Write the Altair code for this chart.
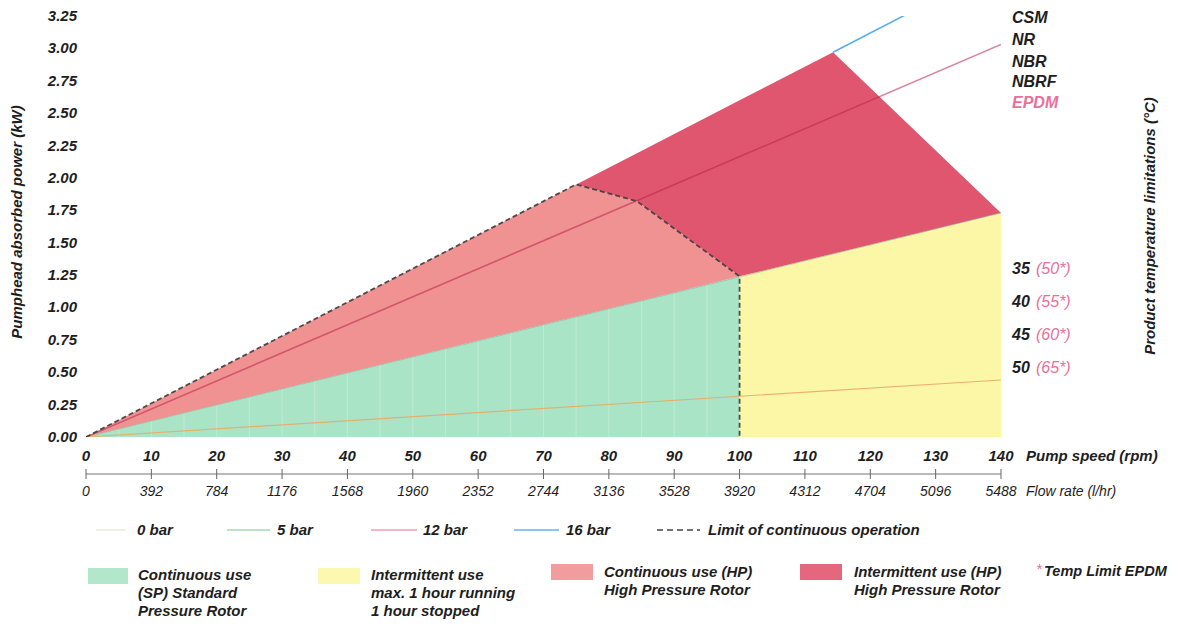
import altair as alt
import pandas as pd

# ---------------- data ----------------
rpm_ticks = [0, 10, 20, 30, 40, 50, 60, 70, 80, 90, 100, 110, 120, 130, 140]
flow_ticks = [0, 392, 784, 1176, 1568, 1960, 2352, 2744, 3136, 3528, 3920, 4312, 4704, 5096, 5488]
kw_ticks = [0.0, 0.25, 0.5, 0.75, 1.0, 1.25, 1.5, 1.75, 2.0, 2.25, 2.5, 2.75, 3.0, 3.25]

# pressure lines: pump speed (rpm) -> absorbed power (kW)
bar0_rpm, bar0_kw = [0, 140], [0, 0.44]
bar5_rpm, bar5_kw = [0, 140], [0, 1.73]
bar12_rpm, bar12_kw = [0, 140], [0, 3.03]
bar16_rpm, bar16_kw = [114.3, 140], [2.97, 3.64]   # visible part above the zones

# operating zones (top / bottom edge at each rpm)
sp_cont_rpm, sp_cont_top, sp_cont_bot = [0, 100], [0, 1.24], [0, 0]
sp_int_rpm, sp_int_top, sp_int_bot = [100, 140], [1.24, 1.73], [0, 0]
hp_cont_rpm = [0, 75, 84.3, 100]
hp_cont_top = [0, 1.95, 1.82, 1.24]
hp_cont_bot = [0, 0.93, 1.045, 1.24]
hp_int_rpm = [75, 84.3, 100, 114.3, 140]
hp_int_top = [1.95, 2.19, 2.60, 2.97, 1.73]
hp_int_bot = [1.95, 1.82, 1.24, 1.415, 1.73]

limit_rpm = [0, 75, 84.3, 100, 100]
limit_kw = [0, 1.95, 1.82, 1.24, 0]

grid_rpm = [5, 10, 15, 20, 25, 30, 35, 40, 45, 50, 55, 60, 65, 70, 75, 80, 85, 90, 95]

materials = ["CSM", "NR", "NBR", "NBRF", "EPDM"]
temps_std = ["35", "40", "45", "50"]
temps_epdm = ["(50*)", "(55*)", "(60*)", "(65*)"]

line_legend = ["0 bar", "5 bar", "12 bar", "16 bar", "Limit of continuous operation"]
zone_legend = [
    ["Continuous use", "(SP) Standard", "Pressure Rotor"],
    ["Intermittent use", "max. 1 hour running", "1 hour stopped"],
    ["Continuous use (HP)", "High Pressure Rotor"],
    ["Intermittent use (HP)", "High Pressure Rotor"],
]
temp_note = "Temp Limit EPDM"
y_title = "Pumphead absorbed power (kW)"
y2_title = "Product temperature limitations (°C)"
x_title = "Pump speed (rpm)"
x2_title = "Flow rate (l/hr)"

# ---------------- styles ----------------
FONT = "Liberation Sans"
TXT = "#1e1e1e"
PINK = "#ea6f9a"
C_GREEN = "#aae4c6"
C_YELLOW = "#fcf7a6"
C_LRED = "#f19292"
C_DRED = "#e1566f"

W, H = 915, 421
xs = alt.Scale(domain=[0, 140], nice=False, zero=False)
ys = alt.Scale(domain=[0, 3.25], nice=False, zero=False)


def X():
    return alt.X("rpm:Q", scale=xs, axis=None)


def Y(f):
    return alt.Y(f"{f}:Q", scale=ys, axis=None)


def zone(rpm, top, bot, color):
    d = pd.DataFrame({"rpm": rpm, "top": top, "bot": bot})
    return alt.Chart(d).mark_area(color=color, opacity=1, interpolate="linear").encode(
        x=X(), y=Y("top"), y2="bot:Q"
    )


def pline(rpm, kw, color, width=1.2, opacity=1.0, dash=None):
    d = pd.DataFrame({"rpm": rpm, "kw": kw, "seq": list(range(len(rpm)))})
    kw_args = dict(color=color, strokeWidth=width, opacity=opacity, clip=True)
    if dash:
        kw_args["strokeDash"] = dash
    return alt.Chart(d).mark_line(**kw_args).encode(x=X(), y=Y("kw"), order="seq:Q")


def label(txt, x, y, size=15, color=TXT, weight="bold", align="left", angle=0, style="italic"):
    return alt.Chart(pd.DataFrame({"t": [txt]})).mark_text(
        align=align, baseline="middle", font=FONT, fontSize=size, fontWeight=weight,
        fontStyle=style, color=color, angle=angle
    ).encode(x=alt.value(x), y=alt.value(y), text="t:N")


def swatch(x1, x2, y1, y2, color):
    return alt.Chart(pd.DataFrame({"a": [0]})).mark_rect(color=color, opacity=0.9).encode(
        x=alt.value(x1), x2=alt.value(x2), y=alt.value(y1), y2=alt.value(y2)
    )


def swline(x1, x2, y, color, width=1.5, dash=None):
    kw_args = dict(color=color, strokeWidth=width)
    if dash:
        kw_args["strokeDash"] = dash
    return alt.Chart(pd.DataFrame({"a": [0]})).mark_rule(**kw_args).encode(
        x=alt.value(x1), x2=alt.value(x2), y=alt.value(y)
    )


layers = []
layers.append(zone(sp_cont_rpm, sp_cont_top, sp_cont_bot, C_GREEN))
layers.append(zone(sp_int_rpm, sp_int_top, sp_int_bot, C_YELLOW))

grid = alt.Chart(pd.DataFrame({"rpm": grid_rpm})).transform_calculate(
    top="datum.rpm * 1.24 / 100", bot="0"
).mark_rule(color="#bdebd2", strokeWidth=1).encode(x=X(), y=Y("top"), y2="bot:Q")
layers.append(grid)

layers.append(zone(hp_cont_rpm, hp_cont_top, hp_cont_bot, C_LRED))
layers.append(zone(hp_int_rpm, hp_int_top, hp_int_bot, C_DRED))

layers.append(pline(bar5_rpm, bar5_kw, "#8fb59c", 1.0, 0.6))
layers.append(pline(bar0_rpm, bar0_kw, "#eaa866", 1.2, 0.9))
layers.append(pline(bar12_rpm, bar12_kw, "#b8244a", 1.6, 0.55))
layers.append(pline(bar16_rpm, bar16_kw, "#5aaef0", 1.6))
layers.append(pline(limit_rpm, limit_kw, "#3c3c3c", 1.8, 0.9, [5, 3]))

# --- left axis labels (kW) ---
layers.append(alt.Chart(pd.DataFrame({"kw": kw_ticks})).mark_text(
    font=FONT, fontSize=15, fontWeight="bold", fontStyle="italic", color=TXT,
    align="right", baseline="middle"
).encode(x=alt.value(-9), y=Y("kw"), text=alt.Text("kw:Q", format=".2f")))

# --- bottom axis (pump speed / flow rate) ---
ticks_df = pd.DataFrame({"rpm": rpm_ticks, "flow": flow_ticks})
layers.append(alt.Chart(pd.DataFrame({"a": [0]})).mark_rule(color="#777", strokeWidth=1).encode(
    x=alt.value(0), x2=alt.value(W), y=alt.value(458)))
layers.append(alt.Chart(ticks_df).mark_rule(color="#666", strokeWidth=1).encode(
    x=X(), y=alt.value(453), y2=alt.value(463)))
layers.append(alt.Chart(ticks_df).mark_text(
    font=FONT, fontSize=15, fontWeight="bold", fontStyle="italic", color=TXT, baseline="middle"
).encode(x=X(), y=alt.value(440), text=alt.Text("rpm:Q", format="d")))
layers.append(alt.Chart(ticks_df).mark_text(
    font=FONT, fontSize=14, fontWeight="normal", fontStyle="italic", color=TXT, baseline="middle"
).encode(x=X(), y=alt.value(476), text=alt.Text("flow:Q", format="d")))
layers.append(label(x_title, 940, 440))
layers.append(label(x2_title, 940, 476, size=14, weight="normal"))

# --- axis titles ---
layers.append(label(y_title, -69, 206, size=15, align="center", angle=270))
layers.append(label(y2_title, 1064, 210, size=15, align="center", angle=270))

# --- right-hand material / temperature labels ---
mat_y = [2, 24, 46, 66, 87]
for i, m in enumerate(materials):
    layers.append(label(m, 926, mat_y[i], size=16, color=PINK if m == "EPDM" else TXT))
temp_y = [253, 286, 319, 352]
for i in range(len(temps_std)):
    layers.append(label(temps_std[i], 926, temp_y[i], size=16))
    layers.append(label(temps_epdm[i], 950, temp_y[i], size=16, color=PINK, weight="normal"))

# --- legend row 1 (lines) ---
ly = 514
sw = [(10, 40, "#efe8dc", None), (141, 184, "#a7d8b0", None), (285, 331, "#f19db3", None),
      (428, 473, "#62b4f0", None), (571, 614, "#444444", [6, 4])]
tx = [51, 191, 337, 480, 622]
for i, name in enumerate(line_legend):
    x1, x2, c, d = sw[i]
    layers.append(swline(x1, x2, ly, c, 1.5, d))
    layers.append(label(name, tx[i], ly))

# --- legend row 2 (zones) ---
zsw = [(2, 42, 552, 568, C_GREEN), (232, 274, 552, 568, C_YELLOW),
       (465, 507, 548, 564, C_LRED), (714, 756, 548, 564, C_DRED)]
ztx = [52, 285, 518, 768]
zty = [559, 559, 556, 556]
for i, lines in enumerate(zone_legend):
    x1, x2, y1, y2, c = zsw[i]
    layers.append(swatch(x1, x2, y1, y2, c))
    for j, t in enumerate(lines):
        layers.append(label(t, ztx[i], zty[i] + 18 * j))
layers.append(label("*", 950, 553, size=15, color=PINK, weight="normal"))
layers.append(label(temp_note, 958, 556, size=14.5))

chart = alt.layer(*layers).properties(
    width=W, height=H,
    autosize=alt.AutoSizeParams(type="none"),
    padding={"left": 78, "top": 8, "right": 169, "bottom": 184},
    background="white",
).configure_view(stroke=None)

chart.save("out.html", embed_options={"renderer": "svg", "actions": False})
